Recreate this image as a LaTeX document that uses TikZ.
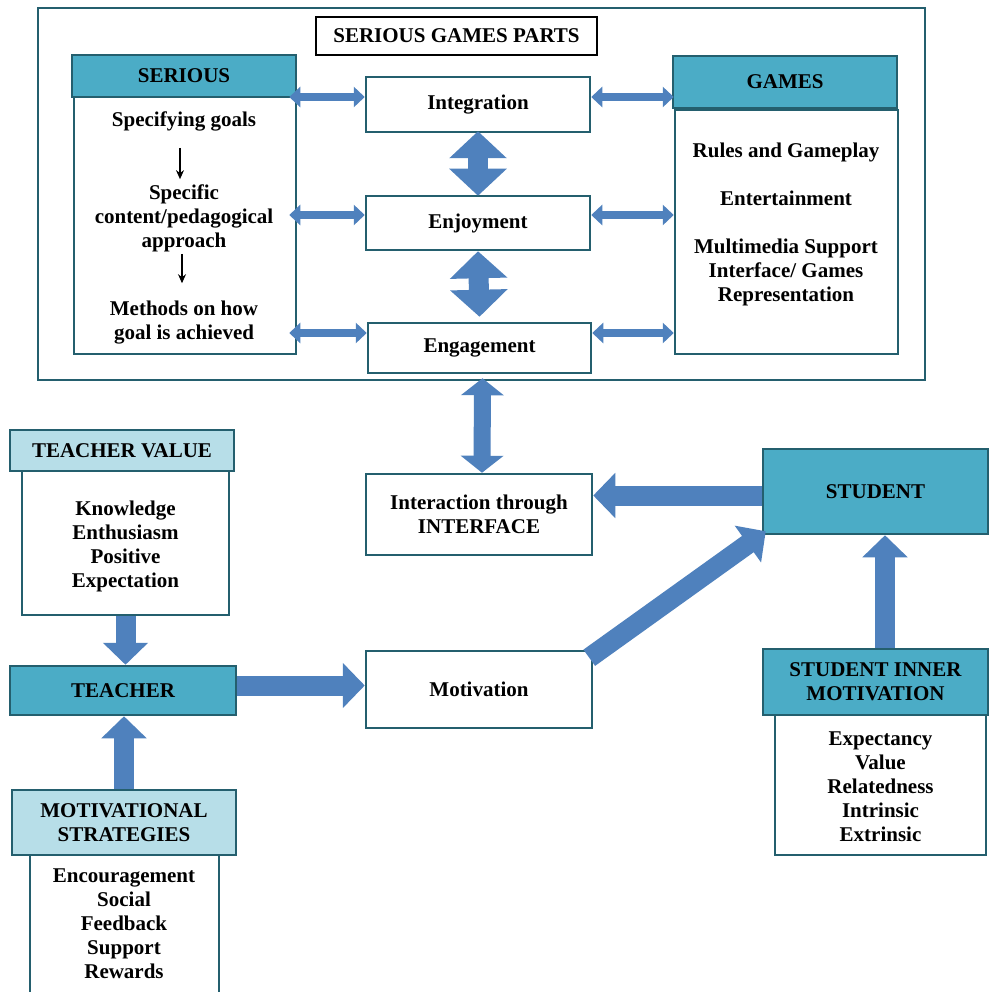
\documentclass[tikz,border=0pt]{standalone}
\usepackage{fontspec}
\setmainfont{Liberation Serif}
\usepackage{xcolor}
\usetikzlibrary{arrows.meta}

\definecolor{headteal}{HTML}{4BACC6}
\definecolor{headlight}{HTML}{B7DEE8}
\definecolor{edgeteal}{HTML}{245F6E}
\definecolor{arrowblue}{HTML}{4F81BD}

\tikzset{
	box/.style={draw=edgeteal,line width=2.5pt,fill=white,align=center,inner sep=0pt},
	headbox/.style={box,fill=headteal},
	lightbox/.style={box,fill=headlight},
	txt/.style={align=center,inner sep=1pt},
	thinarrow/.style={draw=arrowblue,line width=8pt,
		{Triangle[width=20pt,length=11pt]}-{Triangle[width=20pt,length=11pt]}},
	dblarrow/.style={draw=arrowblue,line width=20pt,
		{Triangle[width=56pt,length=27pt]}-{Triangle[width=56pt,length=27pt]}},
	linkarrow/.style={draw=arrowblue,line width=17pt,
		{Triangle[width=42pt,length=17pt]}-{Triangle[width=42pt,length=17pt]}},
	fatarrow/.style={draw=arrowblue,line width=20pt,-{Triangle[width=44pt,length=22pt]}},
	smallarrow/.style={draw=black,line width=1.2pt,-{Stealth[width=8pt,length=9pt]}}
}

\begin{document}
\begin{tikzpicture}[x=1pt,y=-1pt,every node/.style={font=\bfseries\fontsize{21}{24}\selectfont}]
	\useasboundingbox[fill=white] (0,0) rectangle (988,992);

	\node[box,minimum width=887pt,minimum height=372pt] (frame) at (481.5,194) {};
	\node[draw=black,line width=1.2pt,fill=white,minimum width=281pt,minimum height=38pt,inner sep=0pt] (title) at (456.5,36) {SERIOUS GAMES PARTS};

	\node[box,minimum width=222pt,minimum height=257pt] (sbody) at (185,225.5) {};
	\node[headbox,minimum width=224pt,minimum height=42pt] (shead) at (184,76) {SERIOUS};
	\node[txt] (goals) at (184,121) {Specifying goals};
	\node[txt] (content) at (184,218) {Specific\\content/pedagogical\\approach};
	\node[txt] (methods) at (184,323) {Methods on how\\goal is achieved};

	\node[box,minimum width=223pt,minimum height=244pt] (gbody) at (786.5,232) {};
	\node[headbox,minimum width=224pt,minimum height=52pt] (ghead) at (785,82) {GAMES};
	\node[txt] (gtext) at (786,224) {Rules and Gameplay\\[24pt]Entertainment\\[24pt]Multimedia Support\\Interface/ Games\\Representation};

	\node[box,minimum width=224pt,minimum height=55pt] (integ) at (478,104.5) {Integration};
	\node[box,minimum width=224pt,minimum height=54pt] (enjoy) at (478,223) {Enjoyment};
	\node[box,minimum width=223pt,minimum height=50pt] (engage) at (479.5,348) {Engagement};

	\node[box,minimum width=226pt,minimum height=81pt] (inter) at (479,514.5) {Interaction through\\INTERFACE};
	\node[box,minimum width=226pt,minimum height=77pt] (motiv) at (479,689.5) {Motivation};

	\node[box,minimum width=207pt,minimum height=144pt] (tvbody) at (125.5,543) {};
	\node[txt] (tvtext) at (125.5,546) {Knowledge\\Enthusiasm\\Positive\\Expectation};
	\node[lightbox,minimum width=224pt,minimum height=41pt] (tvhead) at (122,450.5) {TEACHER VALUE};
	\node[headbox,minimum width=226pt,minimum height=49pt] (teacher) at (123,690.5) {TEACHER};
	\node[box,minimum width=189pt,minimum height=145pt] (msbody) at (124.5,927.5) {};
	\node[lightbox,minimum width=224pt,minimum height=65pt] (mshead) at (124,822.5) {MOTIVATIONAL\\STRATEGIES};
	\node[txt] (mstext) at (124,924) {Encouragement\\Social\\Feedback\\Support\\Rewards};

	\node[headbox,minimum width=225pt,minimum height=85pt] (student) at (875.5,491.5) {STUDENT};
	\node[box,minimum width=211pt,minimum height=140pt] (sibody) at (880.5,785) {};
	\node[txt] (sitext) at (880.5,787) {Expectancy\\Value\\Relatedness\\Intrinsic\\Extrinsic};
	\node[headbox,minimum width=225pt,minimum height=66pt] (sihead) at (875.5,682) {STUDENT INNER\\MOTIVATION};

	\draw[smallarrow] ([xshift=-4pt,yshift=-16pt]goals.south) -- ([xshift=-4pt,yshift=4pt]content.north);
	\draw[smallarrow] ([xshift=-2pt,yshift=-1pt]content.south) -- ([xshift=-2pt,yshift=17pt]methods.north);

	\draw[thinarrow,shorten <=-8pt] ([yshift=7.5pt]sbody.east |- integ.west) -- ([yshift=7.5pt]integ.west);
	\draw[thinarrow,shorten <=-8pt] ([yshift=8pt]sbody.east |- enjoy.west) -- ([yshift=8pt]enjoy.west);
	\draw[thinarrow,shorten <=-8pt] ([yshift=15pt]sbody.east |- engage.west) -- ([yshift=15pt]engage.west);
	\draw[thinarrow] ([yshift=7.5pt]integ.east) -- ([yshift=7.5pt]gbody.west |- integ.east);
	\draw[thinarrow] ([yshift=8pt]enjoy.east) -- ([yshift=8pt]gbody.west |- enjoy.east);
	\draw[thinarrow] ([yshift=15pt]engage.east) -- ([yshift=15pt]gbody.west |- engage.east);

	\draw[dblarrow] ([yshift=2pt]integ.south) -- ([yshift=-1pt]enjoy.north);
	\draw[dblarrow] (enjoy.south) -- ([yshift=5pt]engage.north);
	\draw[linkarrow] ([xshift=3pt,yshift=-4pt]engage.south) -- ([xshift=3pt]inter.north);

	\draw[fatarrow] (tvbody.south) -- (tvbody.south |- teacher.north);
	\draw[fatarrow] (mshead.north) -- (mshead.north |- teacher.south);
	\draw[fatarrow] ([yshift=5pt]teacher.east) -- ([yshift=5pt]teacher.east -| motiv.west);
	\draw[fatarrow] ([yshift=-4pt]student.west) -- ([yshift=-4pt]student.west -| inter.east);
	\draw[fatarrow] ([xshift=-4pt,yshift=-8pt]motiv.north east) -- ([xshift=4pt,yshift=4pt]student.south west);
	\draw[fatarrow] ([xshift=9.5pt]sihead.north) -- ([xshift=9.5pt]student.south);
\end{tikzpicture}
\end{document}
